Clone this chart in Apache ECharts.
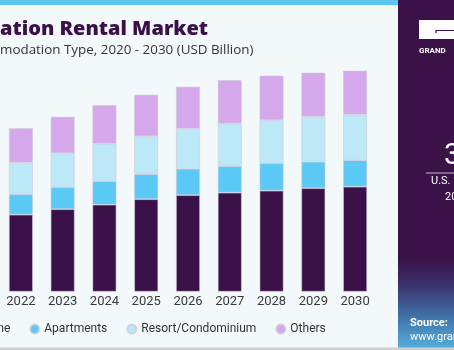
<!DOCTYPE html>
<html>
<head>
<meta charset="utf-8">
<script src="https://cdn.jsdelivr.net/npm/echarts@6/dist/echarts.min.js"></script>
<style>
  html, body { margin: 0; padding: 0; background: #f3f8fb; }
  #chart { width: 454px; height: 350px; }
</style>
</head>
<body>
<div id="chart"></div>
<script>
// values (USD Billion, estimated)
const years = ['2022', '2023', '2024', '2025', '2026', '2027', '2028', '2029', '2030']
const home = [15.4, 16.5, 17.4, 18.5, 19.3, 19.8, 20.2, 20.7, 21.0]
const apartments = [4.1, 4.4, 4.7, 5.0, 5.3, 5.3, 5.5, 5.3, 5.3]
const resort = [6.3, 6.8, 7.5, 7.6, 8.0, 8.5, 8.6, 9.0, 9.1]
const others = [6.9, 7.3, 7.7, 8.3, 8.4, 8.7, 8.9, 8.8, 8.8]

const FONT = 'Roboto'
const chart = echarts.init(document.getElementById('chart'))

const barSeries = (name, data, color) => ({
  name: name,
  type: 'bar',
  stack: 'total',
  data: data,
  barWidth: 24,
  itemStyle: {
    color: color,
    borderColor: 'rgba(205,200,215,0.7)',
    borderWidth: 0.8
  }
})

const option = {
  backgroundColor: '#f3f8fb',
  animation: false,
  title: {
    text: 'ation Rental Market',
    subtext: 'modation Type, 2020 - 2030 (USD Billion)',
    left: 0,
    top: 19,
    padding: 0,
    itemGap: 5,
    textStyle: {
      fontFamily: 'Open Sans',
      fontWeight: 800,
      fontSize: 20,
      color: '#3a1048'
    },
    subtextStyle: {
      fontFamily: 'Open Sans',
      fontSize: 13.4,
      color: '#333333'
    }
  },
  legend: {
    data: ['Home', 'Apartments', 'Resort/Condominium', 'Others'],
    icon: 'circle',
    itemWidth: 9,
    itemHeight: 9,
    itemGap: 19,
    left: -42,
    top: 318,
    textStyle: { fontFamily: FONT, fontSize: 12, color: '#333333' }
  },
  grid: {
    left: -3,
    right: 78,
    top: 41.7,
    bottom: 58.3,
    containLabel: false
  },
  xAxis: {
    type: 'category',
    data: years,
    axisLine: { show: false },
    axisTick: { show: false },
    axisLabel: {
      margin: 4,
      fontFamily: FONT,
      fontSize: 13,
      color: '#3a3a3a'
    }
  },
  yAxis: {
    type: 'value',
    min: 0,
    max: 50,
    show: false,
    splitLine: { show: false }
  },
  series: [
    barSeries('Home', home, '#3a1048'),
    barSeries('Apartments', apartments, '#5bc9f5'),
    barSeries('Resort/Condominium', resort, '#bde8f8'),
    barSeries('Others', others, '#d4a8ea')
  ],
  graphic: [
    // top accent strip
    { type: 'rect', shape: { x: 0, y: 0, width: 398, height: 5 }, style: { fill: '#5cc6ee' }, silent: true },
    // right brand panel
    {
      type: 'rect',
      shape: { x: 398, y: 0, width: 56, height: 350 },
      style: {
        fill: new echarts.graphic.LinearGradient(0, 0, 0, 1, [
          { offset: 0, color: '#3a1248' },
          { offset: 0.74, color: '#3a1248' },
          { offset: 0.82, color: '#3b3570' },
          { offset: 0.9, color: '#3f6fa6' },
          { offset: 1, color: '#56b2e0' }
        ])
      },
      silent: true
    },
    { type: 'rect', shape: { x: 419, y: 20, width: 40, height: 19 }, style: { fill: '#ffffff' }, silent: true },
    { type: 'polyline', shape: { points: [[436, 33], [436, 30.5], [454, 30.5]] }, style: { stroke: '#3a1248', lineWidth: 1.2, fill: null }, silent: true },
    { type: 'text', x: 419, y: 47, style: { text: 'GRAND', fill: '#ffffff', font: 'bold 8px ' + FONT }, silent: true },
    { type: 'text', x: 444, y: 141, style: { text: '3', fill: '#ffffff', font: '30px ' + FONT }, silent: true },
    { type: 'rect', shape: { x: 426, y: 172.5, width: 28, height: 1 }, style: { fill: '#c9bfd0' }, silent: true },
    { type: 'text', x: 431, y: 176, style: { text: 'U.S.', fill: '#ffffff', font: '11px ' + FONT }, silent: true },
    { type: 'text', x: 445, y: 192, style: { text: '20', fill: '#ffffff', font: '11px ' + FONT }, silent: true },
    { type: 'text', x: 410, y: 318, style: { text: 'Source:', fill: '#ffffff', font: 'bold 11px ' + FONT }, silent: true },
    { type: 'text', x: 410, y: 332, style: { text: 'www.gran', fill: '#ffffff', font: '11px ' + FONT }, silent: true },
    // bottom gray rule
    { type: 'rect', shape: { x: 0, y: 347.5, width: 454, height: 2.5 }, style: { fill: '#cfcfcf' }, silent: true }
  ]
}

chart.setOption(option)
</script>
</body>
</html>
